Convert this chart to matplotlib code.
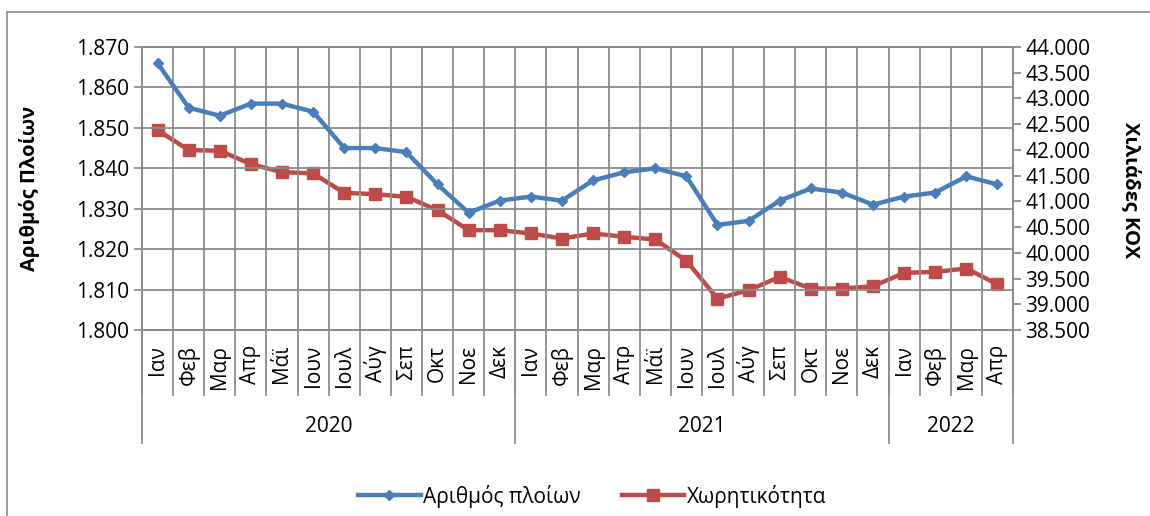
"""Ships and capacity, monthly 2020-2022 (two y axes, grouped month/year x axis)."""

import matplotlib

matplotlib.use("Agg")
import matplotlib.pyplot as plt
import matplotlib.transforms as mtransforms
from matplotlib.patches import Rectangle
from matplotlib.ticker import FuncFormatter, MultipleLocator

plt.rcParams["font.family"] = ["Open Sans", "DejaVu Sans"]

months = ["Ιαν", "Φεβ", "Μαρ", "Απρ", "Μάϊ", "Ιουν", "Ιουλ", "Αύγ", "Σεπ", "Οκτ", "Νοε", "Δεκ",
          "Ιαν", "Φεβ", "Μαρ", "Απρ", "Μάϊ", "Ιουν", "Ιουλ", "Αύγ", "Σεπ", "Οκτ", "Νοε", "Δεκ",
          "Ιαν", "Φεβ", "Μαρ", "Απρ"]
years = ["2020", "2021", "2022"]
year_counts = [12, 12, 4]

ships = [1866, 1855, 1853, 1856, 1856, 1854, 1845, 1845, 1844, 1836, 1829, 1832,
         1833, 1832, 1837, 1839, 1840, 1838, 1826, 1827, 1832, 1835, 1834, 1831,
         1833, 1834, 1838, 1836]
capacity = [42385, 41996, 41985, 41724, 41568, 41543, 41166, 41140, 41088, 40829, 40440, 40440,
            40376, 40278, 40376, 40311, 40259, 39845, 39111, 39272, 39532, 39305, 39305, 39350,
            39610, 39630, 39695, 39389]

BLUE = "#4A7EBB"
RED = "#BE4B48"
GRID = "#8C8C8C"
FS = 15


def dot_thousands(v, _pos=None):
    return f"{v:,.0f}".replace(",", ".")


W, H = 1150, 516
fig = plt.figure(figsize=(W / 100, H / 100), dpi=100)
left, right, top, bottom = 142, 1013, 47, 330
ax = fig.add_axes([left / W, 1 - bottom / H, (right - left) / W, (bottom - top) / H])

# outer chart border
fig.patches.append(Rectangle((7 / W, -0.1), 1.2, 1 - 12 / H + 0.1, transform=fig.transFigure,
                             fill=False, edgecolor=GRID, lw=1.2))

n = len(months)
x = list(range(n))
ax.set_xlim(-0.5, n - 0.5)
ax.set_ylim(1800, 1870)
ax.yaxis.set_major_locator(MultipleLocator(10))
ax.yaxis.set_major_formatter(FuncFormatter(dot_thousands))
ax.set_xticks([])
for b in range(n + 1):
    ax.axvline(b - 0.5, color=GRID, lw=1.3, zorder=1)
ax.grid(axis="y", color=GRID, lw=1.3, zorder=1)
ax.set_axisbelow(True)
for s in ax.spines.values():
    s.set_color(GRID)
    s.set_linewidth(1.3)
ax.tick_params(axis="y", direction="out", length=6, width=1.3, color=GRID,
               labelsize=FS, pad=3)

ax2 = ax.twinx()
ax2.set_ylim(38500, 44000)
ax2.yaxis.set_major_locator(MultipleLocator(500))
ax2.yaxis.set_major_formatter(FuncFormatter(dot_thousands))
ax2.tick_params(axis="y", direction="out", length=6, width=1.3, color=GRID,
                labelsize=FS, pad=3)
for s in ax2.spines.values():
    s.set_color(GRID)
    s.set_linewidth(1.3)

h_ships, = ax.plot(x, ships, color=BLUE, lw=3.2, marker="D", ms=5, zorder=4,
                   label="Αριθμός πλοίων")
h_cap, = ax2.plot(x, capacity, color=RED, lw=3.2, marker="s", ms=8, zorder=4,
                  label="Χωρητικότητα")
ax.set_zorder(ax2.get_zorder() + 1)
ax.patch.set_visible(False)

# grouped category axis: months then years
trans = mtransforms.blended_transform_factory(ax.transData, ax.transAxes)
ph = bottom - top
month_sep = -(395 - bottom) / ph
year_sep = -(443 - bottom) / ph
for i, m in enumerate(months):
    ax.text(i, -(345 - bottom) / ph, m, transform=trans, rotation=90, ha="center",
            va="top", fontsize=FS)
for b in range(n + 1):
    ax.plot([b - 0.5, b - 0.5], [0, month_sep], transform=trans, color=GRID, lw=1.3,
            clip_on=False)
start = 0
for y, c in zip(years, year_counts):
    ax.plot([start - 0.5, start - 0.5], [0, year_sep], transform=trans, color=GRID,
            lw=1.3, clip_on=False)
    ax.text(start + c / 2 - 0.5, -(427 - bottom) / ph, y, transform=trans, ha="center",
            va="center", fontsize=FS)
    start += c
ax.plot([n - 0.5, n - 0.5], [0, year_sep], transform=trans, color=GRID, lw=1.3,
        clip_on=False)

fig.text(30 / W, 1 - 188 / H, "Αριθμός Πλοίων", rotation=90, ha="center", va="center",
         fontsize=14.5, fontweight="bold")
fig.text(1131 / W, 1 - 190 / H, "Χιλιάδες ΚΟΧ", rotation=270, ha="center", va="center",
         fontsize=14.5, fontweight="bold")

fig.legend(handles=[h_ships, h_cap], loc="center", bbox_to_anchor=(592 / W, 1 - 496 / H),
           ncol=2, frameon=False, fontsize=FS, handlelength=3.0, handletextpad=0.1,
           columnspacing=2.0)

fig.savefig("out.png", dpi=100)
